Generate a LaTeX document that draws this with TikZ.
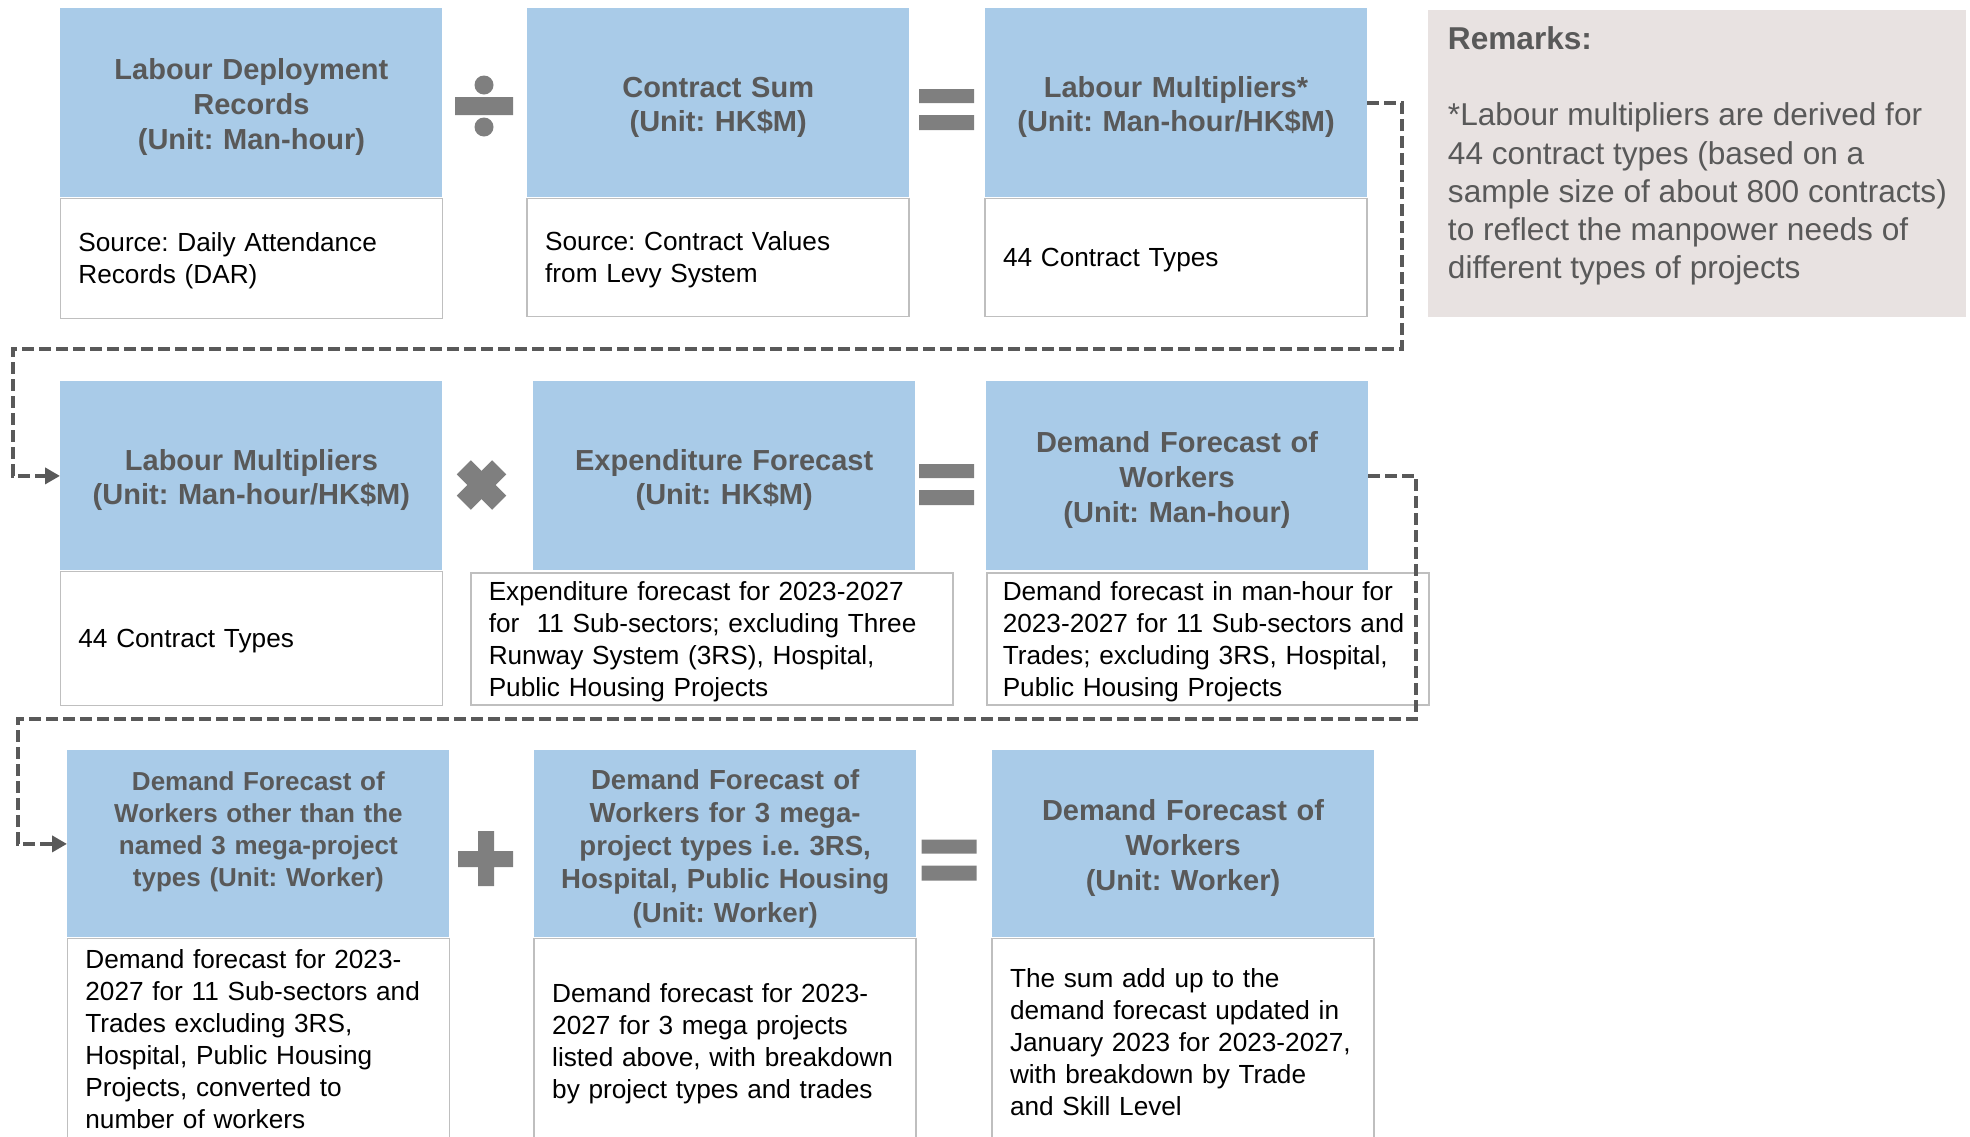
\documentclass[tikz,border=0pt]{standalone}
\usepackage{fontspec}
\setmainfont{Liberation Sans}
\frenchspacing
\usetikzlibrary{arrows.meta,positioning}
\definecolor{headBlue}{HTML}{A9CBE8}
\definecolor{headGray}{HTML}{595959}
\definecolor{remFill}{HTML}{E8E2E1}
\definecolor{edgeGray}{HTML}{BFBFBF}
\definecolor{signGray}{HTML}{7F7F7F}
\definecolor{dashGray}{HTML}{595959}

\begin{document}
\begin{tikzpicture}[
  x=0.5pt,y=-0.5pt,
  head/.style={fill=headBlue,text=headGray,font=\bfseries\fontsize{14.5}{17.3}\selectfont,text width=191pt,minimum height=94.5pt,align=center,inner sep=0pt,execute at begin node={\rule{0pt}{14.6pt}}},
  body/.style={draw=edgeGray,line width=0.75pt,fill=white,text=black,font=\fontsize{13.1}{16}\selectfont,align=left,inner xsep=9pt,inner ysep=0pt,execute at begin node={\rule{0pt}{12.1pt}}},
  rembox/.style={fill=remFill,text=headGray,font=\fontsize{15.8}{19.1}\selectfont,align=left,minimum width=269pt,inner sep=0pt,minimum height=153.5pt},
  sign/.style={fill=signGray},
  flow/.style={-{Triangle[length=7.5pt,width=8pt]},draw=dashGray,line width=2pt,dash pattern=on 6pt off 2.5pt}
]
\useasboundingbox (0,0) rectangle (1970,1136);
\clip (0,0) rectangle (1970,1136);

\node[head,anchor=north west] (h11) at (60,8) {Labour Deployment\\Records\\(Unit: Man-hour)};
\node[head,right=42pt of h11] (h12) {Contract Sum\\(Unit: HK\$M)};
\node[head,right=37.5pt of h12] (h13) {Labour Multipliers*\\(Unit: Man-hour/HK\$M)};
\node[body,below=0pt of h11,text width=173pt,minimum height=60pt] (b11) {Source: Daily Attendance\\Records (DAR)};
\node[body,below=0pt of h12,text width=173pt,minimum height=59pt] (b12) {Source: Contract Values\\from Levy System};
\node[body,below=0pt of h13,text width=173pt,minimum height=59pt] (b13) {44 Contract Types};
\node[rembox,anchor=north west] (rem) at (1428,10) {\textbf{Remarks:}\\[19.1pt]*Labour multipliers are derived for\\44 contract types (based on a\\sample size of about 800 contracts)\\to reflect the manpower needs of\\different types of projects\\[-7.8pt]\mbox{}};

\node[head,anchor=north west] (h21) at (60,381) {Labour Multipliers\\(Unit: Man-hour/HK\$M)};
\node[head,right=45pt of h21] (h22) {Expenditure Forecast\\(Unit: HK\$M)};
\node[head,right=35pt of h22] (h23) {Demand Forecast of\\Workers\\(Unit: Man-hour)};
\node[body,below=0pt of h21,text width=173pt,minimum height=67pt] (b21) {44 Contract Types};
\node[body,anchor=north west,text width=223pt,minimum height=66pt] (b22) at (470,572) {Expenditure forecast for 2023-2027\\for\ \ 11 Sub-sectors; excluding Three\\Runway System (3RS), Hospital,\\Public Housing Projects};
\node[body,anchor=north west,text width=205pt,inner xsep=8pt,minimum height=66pt] (b23) at (986,572) {Demand forecast in man-hour for\\2023-2027 for 11 Sub-sectors and\\Trades; excluding 3RS, Hospital,\\Public Housing Projects};

\node[head,anchor=north west,minimum height=93.5pt,font=\bfseries\fontsize{13}{16}\selectfont] (h31) at (67,750) {Demand Forecast of\\Workers other than the\\named 3 mega-project\\types (Unit: Worker)\\[4pt]\mbox{}};
\node[head,right=42pt of h31,minimum height=93.5pt,font=\bfseries\fontsize{13.8}{16.6}\selectfont] (h32) {Demand Forecast of\\Workers for 3 mega-\\project types i.e. 3RS,\\Hospital, Public Housing\\(Unit: Worker)};
\node[head,right=37.5pt of h32,minimum height=93.5pt,font=\bfseries\fontsize{14.5}{17.5}\selectfont] (h33) {Demand Forecast of\\Workers\\(Unit: Worker)};
\node[body,below=0pt of h31,text width=173pt,minimum height=103pt] (b31) {Demand forecast for 2023-\\2027 for 11 Sub-sectors and\\Trades excluding 3RS,\\Hospital, Public Housing\\Projects, converted to\\number of workers\\[-11pt]\mbox{}};
\node[body,below=0pt of h32,text width=173pt,minimum height=103pt] (b32) {Demand forecast for 2023-\\2027 for 3 mega projects\\listed above, with breakdown\\by project types and trades};
\node[body,below=0pt of h33,text width=173pt,minimum height=101pt] (b33) {The sum add up to the\\demand forecast updated in\\January 2023 for 2023-2027,\\with breakdown by Trade\\and Skill Level};

\fill[sign] (484,85) circle[radius=4.75pt] (484,127) circle[radius=4.75pt] (455,97) rectangle (513,115);
\fill[sign] (919,89) rectangle (974,103) (919,115) rectangle (974,130);
\fill[sign,rotate around={45:(481.5,485)}] (456.5,475) rectangle (506.5,495);
\fill[sign,rotate around={-45:(481.5,485)}] (456.5,475) rectangle (506.5,495);
\fill[sign] (919,464) rectangle (974,478) (919,490) rectangle (974,505);
\fill[sign] (458,851) rectangle (513,867) (478,831) rectangle (494,886);
\fill[sign] (921.5,839.5) rectangle (976.5,853.5) (921.5,865.5) rectangle (976.5,880.5);

\coordinate (t1) at (1402,349);
\coordinate (t2) at (13,349);
\coordinate (t3) at (1416,719);
\coordinate (t4) at (18,719);
\draw[flow] (h13.east) -| (t1) -- (t2) |- (h21.west);
\draw[flow] (h23.east) -| (t3) -- (t4) |- (h31.west);
\end{tikzpicture}
\end{document}
